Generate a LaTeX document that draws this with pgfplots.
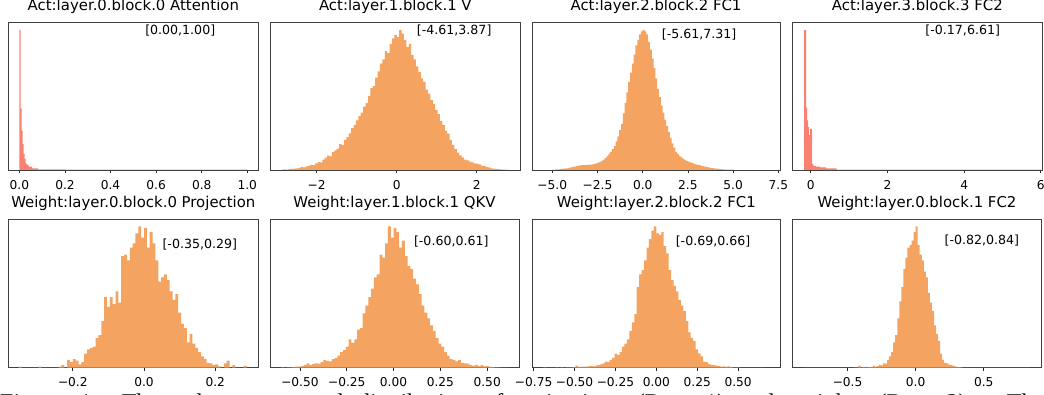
\documentclass[border=0pt]{standalone}
\usepackage{pgfplots}
\pgfplotsset{compat=1.18}
\usepackage{fontspec}
\setmainfont{DejaVu Sans}
\newfontfamily\capfont{Liberation Serif}
\definecolor{sandy}{RGB}{244,164,96}
\definecolor{salmonc}{RGB}{250,128,114}
\newcommand\titlefont{\fontsize{14.9pt}{17pt}\selectfont}
\newcommand\tickfont{\fontsize{12.2pt}{14pt}\selectfont}
\newcommand\annfont{\fontsize{12.6pt}{14pt}\selectfont}
\pgfplotsset{
  hist/.style={
    scale only axis, anchor=south west,
    ymin=0, ymax=1.0526,
    ytick=\empty,
    axis line style={draw=black!75, line width=0.9pt},
    tick align=outside, xtick pos=bottom,
    major tick length=3.5pt,
    every tick/.append style={black!85, line width=0.8pt},
    xticklabel style={font=\tickfont, inner sep=0pt, yshift=-6.5pt},
    title style={font=\titlefont, at={(0.5,1)}, anchor=base, yshift=6pt, inner sep=0pt},
  },
  hbar/.style={const plot mark left, fill=sandy, draw=none},
  rbar/.style={const plot mark left, fill=salmonc, draw=none},
}
\begin{document}
\begin{tikzpicture}
\useasboundingbox (0,0) rectangle (1044pt,394pt);
\clip (0,0) rectangle (1044pt,394pt);

% ---------------- Row 1 ----------------
\begin{axis}[hist, at={(8pt,224pt)}, width=250.7pt, height=147.3pt,
  xmin=-0.05, xmax=1.05,
  xtick={0,0.2,0.4,0.6,0.8,1.0}, xticklabels={0.0,0.2,0.4,0.6,0.8,1.0},
  title={Act:layer.0.block.0 Attention}]
\addplot[rbar] table {
0.0 1.000
0.0057 0.438
0.0101 0.282
0.0146 0.187
0.019 0.115
0.023 0.079
0.027 0.048
0.032 0.038
0.041 0.024
0.056 0.012
0.081 0.004
0.2 0.002
1.0 0
} \closedcycle;
\node[font=\annfont] at (rel axis cs:0.687,0.946) {[0.00,1.00]};
\end{axis}

\begin{axis}[hist, at={(270.7pt,224pt)}, width=249.3pt, height=147.3pt,
  xmin=-3.15, xmax=3.08,
  xtick={-2,0,2}, xticklabels={−2,0,2},
  title={Act:layer.1.block.1 V}]
\addplot[hbar] table {
-2.88 0.003
-2.82 0.004
-2.76 0.002
-2.70 0.006
-2.64 0.008
-2.58 0.010
-2.52 0.012
-2.46 0.015
-2.40 0.020
-2.34 0.018
-2.28 0.026
-2.22 0.031
-2.16 0.037
-2.10 0.035
-2.04 0.048
-1.98 0.058
-1.92 0.055
-1.86 0.075
-1.80 0.088
-1.74 0.102
-1.68 0.098
-1.62 0.128
-1.56 0.140
-1.50 0.152
-1.44 0.185
-1.38 0.178
-1.32 0.215
-1.26 0.235
-1.20 0.262
-1.14 0.300
-1.08 0.322
-1.02 0.355
-0.96 0.385
-0.90 0.410
-0.84 0.452
-0.78 0.478
-0.72 0.530
-0.66 0.585
-0.60 0.600
-0.54 0.660
-0.48 0.705
-0.42 0.760
-0.36 0.790
-0.30 0.850
-0.24 0.835
-0.18 0.900
-0.12 0.940
-0.06 0.965
0.00 0.950
0.06 1.000
0.12 0.975
0.18 0.930
0.24 0.880
0.30 0.900
0.36 0.820
0.42 0.790
0.48 0.740
0.54 0.700
0.60 0.655
0.66 0.630
0.72 0.575
0.78 0.545
0.84 0.500
0.90 0.470
0.96 0.430
1.02 0.400
1.08 0.350
1.14 0.320
1.20 0.280
1.26 0.260
1.32 0.215
1.38 0.180
1.44 0.150
1.50 0.125
1.56 0.105
1.62 0.090
1.68 0.075
1.74 0.068
1.80 0.060
1.86 0.055
1.92 0.048
1.98 0.045
2.04 0.040
2.10 0.032
2.16 0.028
2.22 0.022
2.28 0.018
2.34 0.012
2.40 0.010
2.46 0.008
2.52 0.006
2.58 0.004
2.64 0.003
2.70 0.002
2.76 0.001
2.82 0
} \closedcycle;
\node[font=\annfont] at (rel axis cs:0.736,0.944) {[-4.61,3.87]};
\end{axis}

\begin{axis}[hist, at={(532pt,224pt)}, width=248pt, height=147.3pt,
  xmin=-6.12, xmax=7.59,
  xtick={-5,-2.5,0,2.5,5,7.5}, xticklabels={−5.0,−2.5,0.0,2.5,5.0,7.5},
  title={Act:layer.2.block.2 FC1}]
\addplot[hbar] table {
-5.0 0.002
-4.9 0.003
-4.8 0.004
-4.7 0.005
-4.6 0.007
-4.5 0.008
-4.4 0.009
-4.3 0.011
-4.2 0.012
-4.1 0.015
-4.0 0.018
-3.9 0.022
-3.8 0.025
-3.7 0.028
-3.6 0.032
-3.5 0.033
-3.4 0.034
-3.3 0.035
-3.2 0.036
-3.1 0.037
-3.0 0.038
-2.9 0.039
-2.8 0.040
-2.7 0.044
-2.6 0.048
-2.5 0.053
-2.4 0.058
-2.3 0.066
-2.2 0.075
-2.1 0.087
-2.0 0.100
-1.9 0.115
-1.8 0.130
-1.7 0.150
-1.6 0.170
-1.5 0.205
-1.4 0.240
-1.3 0.285
-1.2 0.330
-1.1 0.405
-1.0 0.480
-0.9 0.555
-0.8 0.630
-0.7 0.695
-0.6 0.760
-0.5 0.825
-0.4 0.890
-0.3 0.930
-0.2 0.970
-0.1 0.990
0.0 1.000
0.1 0.990
0.2 0.970
0.3 0.915
0.4 0.860
0.5 0.795
0.6 0.730
0.7 0.655
0.8 0.580
0.9 0.520
1.0 0.460
1.1 0.410
1.2 0.360
1.3 0.315
1.4 0.270
1.5 0.230
1.6 0.190
1.7 0.160
1.8 0.130
1.9 0.115
2.0 0.100
2.1 0.090
2.2 0.080
2.3 0.072
2.4 0.064
2.5 0.059
2.6 0.054
2.7 0.050
2.8 0.045
2.9 0.041
3.0 0.037
3.1 0.034
3.2 0.030
3.3 0.027
3.4 0.024
3.5 0.021
3.6 0.018
3.7 0.016
3.8 0.014
3.9 0.012
4.0 0.010
4.1 0.009
4.2 0.007
4.3 0.006
4.4 0.005
4.5 0.004
4.6 0.003
4.7 0.003
4.8 0.002
4.9 0.002
5.0 0.001
5.1 0
} \closedcycle;
\node[font=\annfont] at (rel axis cs:0.674,0.921) {[-5.61,7.31]};
\end{axis}

\begin{axis}[hist, at={(792.7pt,224pt)}, width=249.3pt, height=147.3pt,
  xmin=-0.47, xmax=6.03,
  xtick={0,2,4,6}, xticklabels={0,2,4,6},
  title={Act:layer.3.block.3 FC2}]
\addplot[rbar] table {
-0.175 1.000
-0.122 0.445
-0.096 0.354
-0.070 0.306
-0.044 0.251
-0.018 0.294
0.034 0.043
0.068 0.029
0.138 0.024
0.243 0.019
0.40 0.012
0.678 0.003
6.0 0
} \closedcycle;
\node[font=\annfont] at (rel axis cs:0.682,0.944) {[-0.17,6.61]};
\end{axis}

% ---------------- Row 2 ----------------
\begin{axis}[hist, at={(8pt,26.3pt)}, width=250.7pt, height=148.7pt,
  xmin=-0.382, xmax=0.322,
  xtick={-0.2,0,0.2}, xticklabels={−0.2,0.0,0.2},
  title={Weight:layer.0.block.0 Projection}]
\addplot[hbar] table {
-0.352 0.007
-0.344 0
-0.296 0.007
-0.288 0
-0.240 0.008
-0.232 0.018
-0.224 0
-0.216 0.055
-0.208 0.040
-0.200 0.060
-0.192 0.050
-0.184 0.024
-0.176 0.040
-0.168 0.100
-0.160 0.130
-0.152 0.140
-0.144 0.150
-0.136 0.210
-0.128 0.230
-0.120 0.330
-0.112 0.500
-0.104 0.430
-0.096 0.500
-0.088 0.450
-0.080 0.540
-0.072 0.460
-0.064 0.790
-0.056 0.800
-0.048 0.760
-0.040 0.850
-0.032 0.880
-0.024 0.950
-0.016 1.000
-0.008 0.920
0.000 0.990
0.008 0.850
0.016 0.960
0.024 0.880
0.032 0.760
0.040 0.610
0.048 0.640
0.056 0.660
0.064 0.620
0.072 0.540
0.080 0.480
0.088 0.520
0.096 0.390
0.104 0.310
0.112 0.280
0.120 0.180
0.128 0.240
0.136 0.170
0.144 0.140
0.152 0.110
0.160 0.080
0.168 0.060
0.176 0.035
0.184 0.030
0.192 0.020
0.200 0.024
0.208 0.010
0.216 0
0.224 0.030
0.232 0.050
0.240 0
0.248 0.018
0.256 0
0.280 0.014
0.288 0
} \closedcycle;
\node[font=\annfont] at (rel axis cs:0.765,0.830) {[-0.35,0.29]};
\end{axis}

\begin{axis}[hist, at={(270pt,26.3pt)}, width=249pt, height=148.7pt,
  xmin=-0.66, xmax=0.67,
  xtick={-0.5,-0.25,0,0.25,0.5}, xticklabels={−0.50,−0.25,0.00,0.25,0.50},
  title={Weight:layer.1.block.1 QKV}]
\addplot[hbar] table {
-0.600 0.002
-0.585 0
-0.570 0.002
-0.555 0.003
-0.540 0.005
-0.525 0.007
-0.510 0.008
-0.495 0.012
-0.480 0.020
-0.465 0.030
-0.450 0.018
-0.435 0.025
-0.420 0.030
-0.405 0.028
-0.390 0.040
-0.375 0.055
-0.360 0.048
-0.345 0.045
-0.330 0.060
-0.315 0.067
-0.300 0.085
-0.285 0.110
-0.270 0.125
-0.255 0.150
-0.240 0.200
-0.225 0.175
-0.210 0.200
-0.195 0.270
-0.180 0.280
-0.165 0.385
-0.150 0.440
-0.135 0.500
-0.120 0.560
-0.105 0.640
-0.090 0.660
-0.075 0.800
-0.060 0.780
-0.045 0.880
-0.030 1.000
-0.015 0.920
0.000 0.990
0.015 0.960
0.030 0.850
0.045 0.900
0.060 0.790
0.075 0.720
0.090 0.700
0.105 0.630
0.120 0.590
0.135 0.520
0.150 0.440
0.165 0.390
0.180 0.350
0.195 0.300
0.210 0.260
0.225 0.210
0.240 0.170
0.255 0.150
0.270 0.110
0.285 0.085
0.300 0.060
0.315 0.055
0.330 0.045
0.345 0.055
0.360 0.035
0.375 0.030
0.390 0.028
0.405 0.020
0.420 0.015
0.435 0.020
0.450 0.012
0.465 0.018
0.480 0.010
0.495 0.012
0.510 0.006
0.525 0.004
0.540 0.003
0.555 0.002
0.570 0.001
0.585 0.001
0.600 0.001
0.615 0
} \closedcycle;
\node[font=\annfont] at (rel axis cs:0.728,0.847) {[-0.60,0.61]};
\end{axis}

\begin{axis}[hist, at={(532pt,26.3pt)}, width=248.7pt, height=148.7pt,
  xmin=-0.76, xmax=0.76,
  xtick={-0.75,-0.5,-0.25,0,0.25,0.5}, xticklabels={−0.75,−0.50,−0.25,0.00,0.25,0.50},
  title={Weight:layer.2.block.2 FC1}]
\addplot[hbar] table {
-0.690 0.002
-0.675 0
-0.645 0.001
-0.630 0
-0.615 0.002
-0.600 0.001
-0.585 0.002
-0.570 0.001
-0.555 0.003
-0.540 0.002
-0.525 0.003
-0.510 0.004
-0.495 0.014
-0.480 0.006
-0.465 0.005
-0.450 0.007
-0.435 0.008
-0.420 0.010
-0.405 0.012
-0.390 0.010
-0.375 0.014
-0.360 0.018
-0.345 0.024
-0.330 0.030
-0.315 0.043
-0.300 0.040
-0.285 0.055
-0.270 0.070
-0.255 0.100
-0.240 0.090
-0.225 0.110
-0.210 0.150
-0.195 0.170
-0.180 0.200
-0.165 0.260
-0.150 0.320
-0.135 0.380
-0.120 0.570
-0.105 0.660
-0.090 0.690
-0.075 0.760
-0.060 0.850
-0.045 0.910
-0.030 0.970
-0.015 1.000
0.000 0.950
0.015 0.940
0.030 0.960
0.045 0.860
0.060 0.810
0.075 0.690
0.090 0.620
0.105 0.580
0.120 0.540
0.135 0.480
0.150 0.440
0.165 0.400
0.180 0.330
0.195 0.250
0.210 0.210
0.225 0.190
0.240 0.130
0.255 0.100
0.270 0.080
0.285 0.043
0.300 0.040
0.315 0.025
0.330 0.020
0.345 0.018
0.360 0.014
0.375 0.012
0.390 0.008
0.405 0.010
0.420 0.006
0.435 0.010
0.450 0.004
0.465 0.003
0.480 0.002
0.495 0.002
0.510 0.001
0.555 0
0.585 0.001
0.600 0
0.645 0.001
0.660 0
} \closedcycle;
\node[font=\annfont] at (rel axis cs:0.728,0.847) {[-0.69,0.66]};
\end{axis}

\begin{axis}[hist, at={(792.7pt,26.3pt)}, width=248.6pt, height=148.7pt,
  xmin=-0.903, xmax=0.923,
  xtick={-0.5,0,0.5}, xticklabels={−0.5,0.0,0.5},
  title={Weight:layer.0.block.1 FC2}]
\addplot[hbar] table {
-0.820 0.001
-0.450 0.003
-0.435 0.002
-0.420 0.014
-0.405 0.003
-0.390 0.004
-0.375 0.003
-0.360 0.005
-0.345 0.004
-0.330 0.006
-0.315 0.014
-0.300 0.008
-0.285 0.012
-0.270 0.020
-0.255 0.016
-0.240 0.030
-0.225 0.028
-0.210 0.055
-0.195 0.080
-0.180 0.110
-0.165 0.180
-0.150 0.230
-0.135 0.350
-0.120 0.470
-0.105 0.570
-0.090 0.700
-0.075 0.780
-0.060 0.850
-0.045 0.870
-0.030 0.900
-0.015 0.960
0.000 1.000
0.015 0.870
0.030 0.800
0.045 0.760
0.060 0.680
0.075 0.640
0.090 0.530
0.105 0.460
0.120 0.400
0.135 0.300
0.150 0.240
0.165 0.190
0.180 0.100
0.195 0.055
0.210 0.035
0.225 0.030
0.240 0.022
0.255 0.018
0.270 0.014
0.285 0.010
0.300 0.006
0.315 0.004
0.330 0.002
0.345 0.001
0.840 0
} \closedcycle;
\node[font=\annfont] at (rel axis cs:0.761,0.852) {[-0.82,0.84]};
\end{axis}

% caption, cut by the picture's lower edge as in the reference
\node[anchor=base west, inner sep=0pt, font={\capfont\fontsize{24pt}{29pt}\selectfont}] at (0pt,-16pt)
  {\makebox[1044pt][s]{Figure 4: The value range and distribution of activations (Row 1) and weights (Row 2). The}};
\end{tikzpicture}
\end{document}
